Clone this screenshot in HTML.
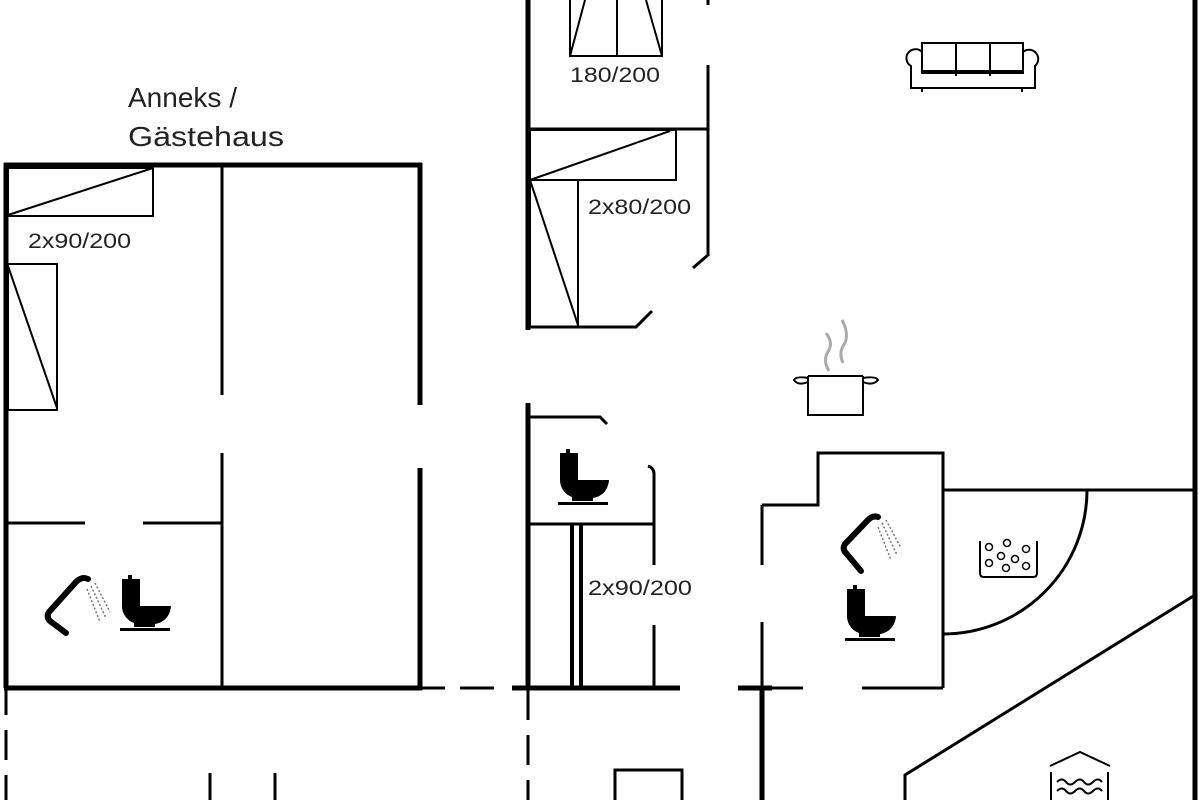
<!DOCTYPE html>
<html><head><meta charset="utf-8"><style>
html,body{margin:0;padding:0;background:#fff;}
svg{display:block;}
text{font-family:"Liberation Sans",sans-serif;fill:#222;}
</style></head><body>
<svg width="1200" height="800" viewBox="0 0 1200 800" xmlns="http://www.w3.org/2000/svg">
<g stroke="#000" fill="none" stroke-linecap="butt">
<g stroke-width="5">
<path d="M6,163 V688"/>
<path d="M4,165 H422"/>
<path d="M420,163 V405 M420,468 V690"/>
<path d="M4,688 H422"/>
<path d="M528,0 V330 M528,403 V690"/>
<path d="M512,688 H680"/>
<path d="M738,688 H772"/>
<path d="M762,688 V800"/>
<path d="M1195,0 V800"/>
<path d="M572,524 V688 M581,524 V688" stroke-width="4"/>
</g>
<g stroke-width="3">
<path d="M222,165 V395 M222,453 V688"/>
<path d="M6,523 H85 M143,523 H222"/>
<path d="M420,688 H445"/>
<path d="M460,688 H494"/>
<path d="M6,690 V715 M6,730 V760 M6,775 V800"/>
<path d="M528,690 V720 M528,735 V765 M528,780 V800"/>
<path d="M210,773 V800 M275,773 V800"/>
<path d="M708,0 V5 M708,65 V255 L693,268"/>
<path d="M528,129 H708"/>
<path d="M528,327 H636 L652,311"/>
<path d="M530,417 H600 L607,424"/>
<path d="M648,466 Q654,468 654,474 V565 M654,625 V688"/>
<path d="M528,524 H654"/>
<path d="M772,688 H803 M862,688 H943"/>
<path d="M762,505 V565 M762,622 V688"/>
<path d="M762,505 H818 V453 H943 V688"/>
<path d="M943,490 H1195"/>
<path d="M1087,490 A144,144 0 0 1 943,634"/>
<path d="M1195,595 L905,775 V800"/>
<path d="M615,800 V770 H682 V800"/>
</g>
<g stroke-width="2">
<rect x="8" y="168" width="145" height="48"/>
<path d="M8,215 L153,168"/>
<rect x="8" y="264" width="49" height="146"/>
<path d="M8,266 L57,408"/>
<path d="M570,0 V56 H662 V0 M617,0 V56 M570,56 L585,0 M662,56 L646,0"/>
<rect x="530" y="130" width="146" height="50"/>
<path d="M530,180 L670,131"/>
<rect x="530" y="180" width="48" height="147"/>
<path d="M530,180 L578,325"/>
<rect x="922" y="43" width="101" height="30"/>
<path d="M956,43 V76 M990,43 V76 M922,71 H1023"/>
<path d="M922,52 A9,9 0 1 0 911,66 V88 H1035 V66 A9,9 0 1 0 1023,52"/>
<path d="M922,88 V92 M1022,88 V92"/>
<path d="M808,376 H863 M808,376 V415 H863 V376"/>
<path d="M808,382 Q798,386 794,380 Q796,376 808,378 M863,382 Q873,386 878,380 Q876,376 863,378"/>
<path d="M980,541 V573 Q980,577 984,577 H1033 Q1037,577 1037,573 V541"/>
<path d="M1050,766 L1080,752 L1110,766 M1051,772 V800 M1108,772 V800"/>
<path d="M1057,782 q5,-5 9,0 t9,0 t9,0 t9,0 t9,0 M1057,791 q5,-5 9,0 t9,0 t9,0 t9,0 t9,0"/>
</g>
<g stroke-width="1.5">
<circle cx="989" cy="547" r="3.5"/><circle cx="1007" cy="543" r="3.5"/><circle cx="1026" cy="549" r="3.5"/>
<circle cx="1001" cy="556" r="3.5"/><circle cx="1015" cy="559" r="3.5"/><circle cx="989" cy="563" r="3.5"/>
<circle cx="1006" cy="568" r="3.5"/><circle cx="1026" cy="566" r="3.5"/>
</g>
<path d="M829,371 Q822,360 829,350 Q833,342 826,333 M843,363 Q838,352 845,343 Q849,333 842,320" stroke="#aaa" stroke-width="3"/>
<path d="M88,579 Q82,576 76,582 L49,612 Q46,617 50,621 L66,633" stroke-width="6" stroke-linecap="round"/>
<path d="M91,586 L106,618 M95,583 L110,612 M87,589 L100,622" stroke="#777" stroke-width="1.5" stroke-dasharray="2,2"/>
<path d="M878,517 Q873,515 868,520 L845,544 Q842,549 846,553 L861,571" stroke-width="6" stroke-linecap="round"/>
<path d="M882,523 L897,555 M886,520 L901,548 M878,527 L891,560" stroke="#777" stroke-width="1.5" stroke-dasharray="2,2"/>
</g>
<g fill="#000">
<g transform="translate(558,449)">
<rect x="8" y="0" width="4" height="4"/>
<path d="M2,4 H20 V31 H51 C50,43 42,48 35,49 V52 H14 V48 C6,45 2,38 2,31 Z"/>
<rect x="0" y="53" width="50" height="3"/>
</g>
<g transform="translate(120,575)">
<rect x="8" y="0" width="4" height="4"/>
<path d="M2,4 H20 V31 H51 C50,43 42,48 35,49 V52 H14 V48 C6,45 2,38 2,31 Z"/>
<rect x="0" y="53" width="50" height="3"/>
</g>
<g transform="translate(845,585)">
<rect x="8" y="0" width="4" height="4"/>
<path d="M2,4 H20 V31 H51 C50,43 42,48 35,49 V52 H14 V48 C6,45 2,38 2,31 Z"/>
<rect x="0" y="53" width="50" height="3"/>
</g>
</g>
<text x="128" y="107" font-size="28" textLength="109" lengthAdjust="spacingAndGlyphs">Anneks /</text>
<text x="128" y="146" font-size="28" textLength="156" lengthAdjust="spacingAndGlyphs">Gästehaus</text>
<text x="28" y="248" font-size="21" textLength="103" lengthAdjust="spacingAndGlyphs">2x90/200</text>
<text x="570" y="82" font-size="21" textLength="90" lengthAdjust="spacingAndGlyphs">180/200</text>
<text x="588" y="214" font-size="21" textLength="103" lengthAdjust="spacingAndGlyphs">2x80/200</text>
<text x="588" y="595" font-size="21" textLength="104" lengthAdjust="spacingAndGlyphs">2x90/200</text>
</svg>
</body></html>
